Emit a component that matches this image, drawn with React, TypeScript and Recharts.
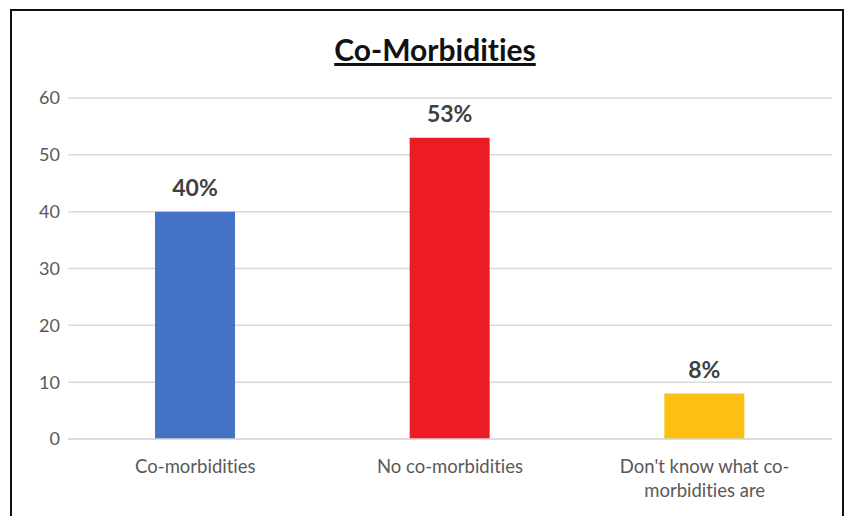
import { BarChart, Bar, XAxis, YAxis, CartesianGrid, LabelList, Cell } from "recharts";

const categories = ["Co-morbidities", "No co-morbidities", "Don't know what co-morbidities are"];
const tickLines = [["Co-morbidities"], ["No co-morbidities"], ["Don't know what co-", "morbidities are"]];
const values = [40, 53, 8];
const valueLabels = ["40%", "53%", "8%"];
const barColors = ["#4472C4", "#ED1C24", "#FCC012"];
const yTicks = [0, 10, 20, 30, 40, 50, 60];

const data = categories.map((name, i) => ({
  name,
  value: values[i],
  label: valueLabels[i],
}));

const FONT = "Lato, 'Open Sans', sans-serif";

const CategoryTick = (props: any) => {
  const { x, y, index } = props;
  const lines = tickLines[index] || [];
  return (
    <g>
      {lines.map((line, i) => (
        <text
          key={i}
          x={x}
          y={y + 26 + i * 24}
          textAnchor="middle"
          fill="#595959"
          fontSize={18.5}
          fontFamily={FONT}
        >
          {line}
        </text>
      ))}
    </g>
  );
};

export default function App() {
  return (
    <div
      style={{
        position: "absolute",
        left: 0,
        top: 0,
        width: 845,
        height: 516,
        background: "#fff",
        overflow: "hidden",
        fontVariantLigatures: "none",
      }}
    >
      <div
        style={{
          position: "absolute",
          left: 10,
          top: 9,
          width: 834,
          height: 520,
          border: "2px solid #111",
          boxSizing: "border-box",
        }}
      />
      <div
        style={{
          position: "absolute",
          left: 0,
          top: 31,
          width: 870,
          textAlign: "center",
          fontFamily: FONT,
          fontWeight: 700,
          fontSize: 30,
          color: "#111",
          textDecoration: "underline",
        }}
      >
        Co-Morbidities
      </div>
      <div style={{ position: "absolute", left: 0, top: 0 }}>
        <BarChart
          width={845}
          height={516}
          data={data}
          margin={{ top: 98, right: 13, bottom: 0, left: 0 }}
          barSize={80}
        >
          <CartesianGrid vertical={false} stroke="#d9d9d9" strokeWidth={1.5} />
          <XAxis
            dataKey="name"
            height={77}
            axisLine={{ stroke: "#d9d9d9", strokeWidth: 1.5 }}
            tickLine={false}
            tick={<CategoryTick />}
            interval={0}
          />
          <YAxis
            width={68}
            domain={[0, 60]}
            ticks={yTicks}
            axisLine={false}
            tickLine={false}
            tick={{ fill: "#595959", fontSize: 18, fontFamily: FONT }}
          />
          <Bar dataKey="value" isAnimationActive={false}>
            {data.map((d, i) => (
              <Cell key={d.name} fill={barColors[i]} />
            ))}
            <LabelList
              dataKey="label"
              position="top"
              offset={16}
              fill="#404040"
              fontSize={23}
              fontWeight={700}
              fontFamily={FONT}
            />
          </Bar>
        </BarChart>
      </div>
    </div>
  );
}
